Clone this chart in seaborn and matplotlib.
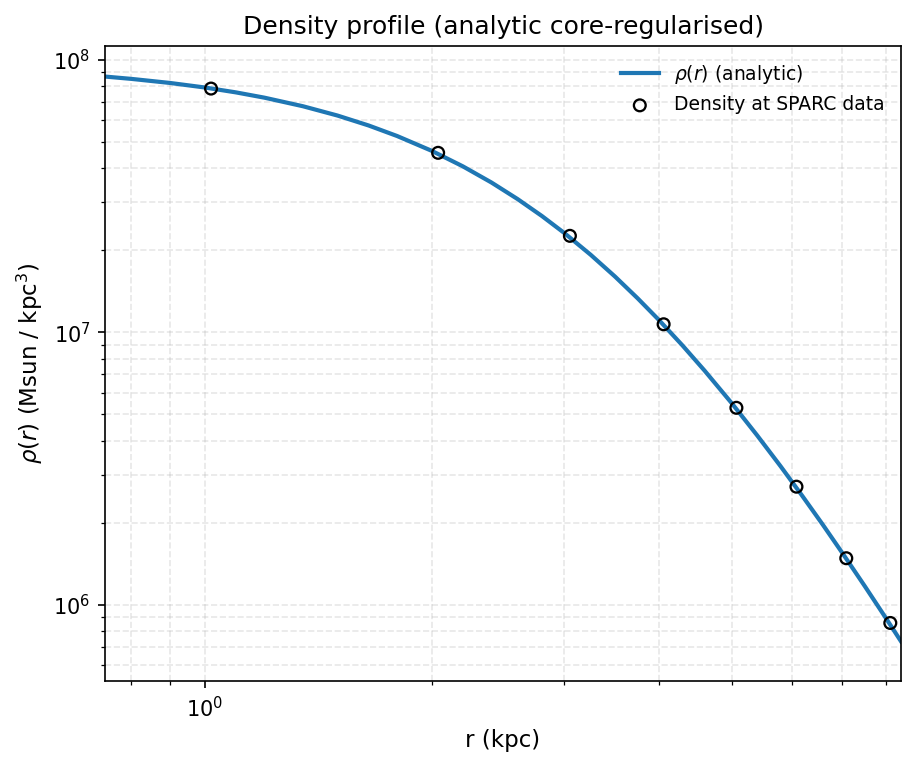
import numpy as np
import pandas as pd
import matplotlib
matplotlib.use('Agg')
import matplotlib.pyplot as plt
import seaborn as sns

# ── values ──────────────────────────────────────────────────────────────────
# analytic profile, sampled along the drawn curve
r_curve   = [0.738, 0.8, 0.9, 1.0, 1.1, 1.2, 1.35, 1.5, 1.65, 1.8, 2.0, 2.2,
             2.4, 2.6, 2.8, 3.0, 3.25, 3.5, 3.75, 4.0, 4.3, 4.6, 5.0, 5.4,
             5.8, 6.2, 6.6, 7.0, 7.5, 8.0, 8.38]
rho_curve = [8.690e7, 8.52e7, 8.232e7, 7.925e7, 7.603e7, 7.271e7, 6.762e7, 6.251e7,
             5.746e7, 5.256e7, 4.639e7, 4.067e7, 3.549e7, 3.084e7, 2.673e7, 2.312e7,
             1.925e7, 1.602e7, 1.333e7, 1.111e7, 8.950e6, 7.233e6, 5.483e6, 4.186e6,
             3.225e6, 2.506e6, 1.965e6, 1.552e6, 1.170e6, 8.926e5, 7.322e5]

# density at SPARC radii
r_data   = [1.02, 2.04, 3.05, 4.06, 5.07, 6.09, 7.09, 8.11]
rho_data = [7.85e7, 4.56e7, 2.26e7, 1.07e7, 5.28e6, 2.71e6, 1.48e6, 8.56e5]

curve = pd.DataFrame({'r': r_curve, 'rho': rho_curve})
data = pd.DataFrame({'r': r_data, 'rho': rho_data})

fig, ax = plt.subplots(figsize=(917 / 150, 767 / 150), dpi=150)
fig.subplots_adjust(left=0.1145, right=0.9826, top=0.94, bottom=0.1121)

sns.lineplot(data=curve, x='r', y='rho', ax=ax, color='C0', lw=2,
             label=r'$\rho(r)$ (analytic)')
sns.scatterplot(data=data, x='r', y='rho', ax=ax, s=32, facecolors='none',
                edgecolors='black', linewidths=1.1, label='Density at SPARC data',
                zorder=3)

ax.set_xscale('log')
ax.set_yscale('log')
ax.set_xlim(r_curve[0], r_curve[-1])
ax.set_ylim(5.24e5, 1.125e8)
ax.grid(True, which='both', ls='--', alpha=0.3)

ax.set_xlabel('r (kpc)', fontsize=11)
ax.set_ylabel(r'$\rho(r)$ (Msun / kpc$^3$)', fontsize=11)
ax.set_title('Density profile (analytic core-regularised)', fontsize=12)
ax.legend(frameon=False, fontsize=9)

plt.savefig('out.png', dpi=150)
plt.close()
